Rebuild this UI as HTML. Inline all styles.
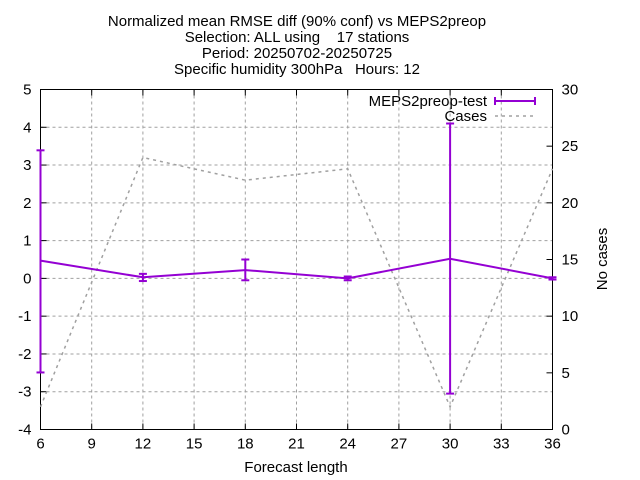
<!DOCTYPE html>
<html><head><meta charset="utf-8"><style>
body{margin:0;background:#fff}
svg{font-family:"Liberation Sans",sans-serif;display:block}
</style></head><body>
<svg width="640" height="480" xmlns="http://www.w3.org/2000/svg">
<g font-size="15" text-anchor="middle" fill="#000">
<text x="297" y="26">Normalized mean RMSE diff (90% conf) vs MEPS2preop</text>
<text x="297" y="42">Selection: ALL using&#160;&#160;&#160;&#160;17 stations</text>
<text x="297" y="58">Period: 20250702-20250725</text>
<text x="297" y="74">Specific humidity 300hPa&#160;&#160;&#160;Hours: 12</text>
</g>
<g id="grid"></g>
<g id="axes"></g>
<g id="series"></g>
<text x="296" y="472" font-size="15" text-anchor="middle">Forecast length</text>
<text transform="translate(607,259) rotate(-90)" font-size="15" text-anchor="middle">No cases</text>
<g font-size="15">
<text x="487" y="106" text-anchor="end">MEPS2preop-test</text>
<line x1="495" y1="101" x2="535" y2="101" stroke="#9400d3" stroke-width="2"/>
<line x1="495" y1="97" x2="495" y2="105" stroke="#9400d3" stroke-width="2"/>
<line x1="535" y1="97" x2="535" y2="105" stroke="#9400d3" stroke-width="2"/>
<text x="487" y="121" text-anchor="end">Cases</text>
<line x1="495" y1="116" x2="535" y2="116" stroke="#a0a0a0" stroke-width="1.5" stroke-dasharray="3,4"/>
</g>
</svg>
<script>
const hours=[6,12,18,24,30,36];
const meanVals=[0.47,0.03,0.22,0.0,0.52,0.0];
const errLow=[-2.49,-0.07,-0.05,-0.05,-3.05,-0.03];
const errHigh=[3.39,0.12,0.5,0.05,4.1,0.03];
const cases=[2,24,22,23,2,23];
const xTicks=[6,9,12,15,18,21,24,27,30,33,36];
const yTicks=[-4,-3,-2,-1,0,1,2,3,4,5];
const y2Ticks=[0,5,10,15,20,25,30];
const L=40.5,R=552.5,T=89.5,B=429.5;
const X=v=>L+(v-6)/30*(R-L);
const Y=v=>B-(v+4)/9*(B-T);
const Y2=v=>B-v/30*(B-T);
const NS='http://www.w3.org/2000/svg';
function mk(p,t,a){const e=document.createElementNS(NS,t);for(const k in a)e.setAttribute(k,a[k]);p.appendChild(e);return e;}
const grid=document.getElementById('grid'),axes=document.getElementById('axes'),ser=document.getElementById('series');
xTicks.forEach(t=>{
 if(t>6&&t<36){const g=mk(grid,'line',{x1:X(t),x2:X(t),y1:T,y2:B,stroke:'#a0a0a0','stroke-dasharray':'3,3'});
 }
 mk(axes,'line',{x1:X(t),x2:X(t),y1:B,y2:B-6,stroke:'#000'});mk(axes,'line',{x1:X(t),x2:X(t),y1:T,y2:T+6,stroke:'#000'});
 const tx=mk(axes,'text',{x:X(t),y:B+19,'font-size':15,'text-anchor':'middle'});tx.textContent=t;
 
});
yTicks.forEach(t=>{
 if(t>-4&&t<5){const g=mk(grid,'line',{x1:L,x2:R,y1:Y(t),y2:Y(t),stroke:'#a0a0a0','stroke-dasharray':'3,3'});
 }
 mk(axes,'line',{x1:L,x2:L+6,y1:Y(t),y2:Y(t),stroke:'#000'});
 const tx=mk(axes,'text',{x:L-9,y:Y(t)+5,'font-size':15,'text-anchor':'end'});tx.textContent=t;
 
});
y2Ticks.forEach(t=>{
 mk(axes,'line',{x1:R,x2:R-6,y1:Y2(t),y2:Y2(t),stroke:'#000'});
 const tx=mk(axes,'text',{x:R+9,y:Y2(t)+5,'font-size':15,'text-anchor':'start'});tx.textContent=t;
 
});
mk(axes,'rect',{x:L,y:T,width:R-L,height:B-T,fill:'none',stroke:'#000'});
const cl=mk(ser,'polyline',{points:hours.map((h,i)=>X(h)+','+Y2(cases[i])).join(' '),fill:'none',stroke:'#a0a0a0','stroke-width':1.5,'stroke-dasharray':'3,4'});

const ml=mk(ser,'polyline',{points:hours.map((h,i)=>X(h)+','+Y(meanVals[i])).join(' '),fill:'none',stroke:'#9400d3','stroke-width':2});

hours.forEach((h,i)=>{
 const g=mk(ser,'g',{stroke:'#9400d3','stroke-width':2});
 
 const x=X(h);
 mk(g,'line',{x1:x,x2:x,y1:Y(errLow[i]),y2:Y(errHigh[i])});
 mk(g,'line',{x1:x-4,x2:x+4,y1:Y(errLow[i]),y2:Y(errLow[i])});
 mk(g,'line',{x1:x-4,x2:x+4,y1:Y(errHigh[i]),y2:Y(errHigh[i])});
});
</script>
</body></html>
